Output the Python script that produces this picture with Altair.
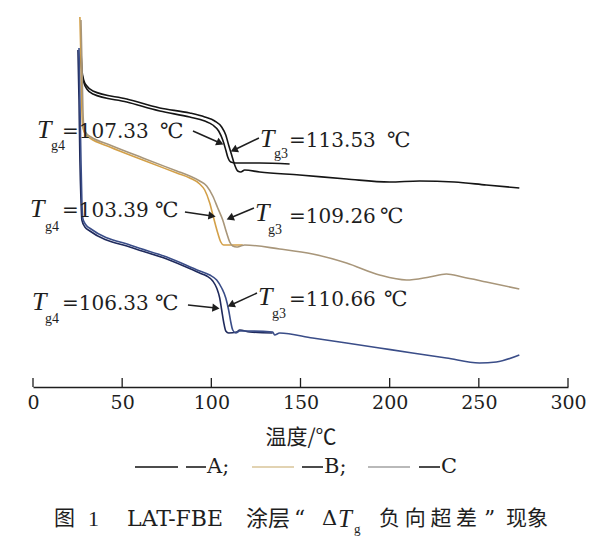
import math
import altair as alt
import pandas as pd

# ---------------- data ----------------
# temperature (°C) and heat flow (arbitrary units, curves offset vertically)
A1_t = [26.9, 27.4, 28.6, 30.2, 33.6, 52.6, 71.1, 87.9, 96.3, 100.8, 104.1, 106.4, 108.1, 109.2, 110.9, 113.7, 127.1, 143.9]
A1_y = [337, 315, 304, 298, 293, 285, 276, 270, 266, 262, 256, 247, 237, 230, 225, 224, 224, 223]

A2_t = [26.9, 27.4, 28.6, 30.2, 33.6, 52.6, 71.1, 87.9, 96.3, 101.9, 105.8, 108.1, 109.7, 111.4, 113.1, 114.8,
        116.5, 118.7, 127.1, 149.5, 175.8, 199.9, 216.7, 236.3, 254.2, 272.7]
A2_y = [339, 317, 306, 301, 296, 288, 279, 274, 270, 266, 260, 252, 242, 232, 222, 216,
        215, 217, 215, 212, 208, 205, 206, 205, 202, 199]

B1_t = [26.3, 26.9, 27.4, 28.0, 29.7, 31.9, 43.1, 61.6, 80.6, 87.9, 93.5, 96.3, 99.1, 101.3, 103.6, 105.3,
        106.9, 114.2, 117.6]
B1_y = [370, 327, 277, 259, 252, 249, 240, 227, 214, 209, 203, 197, 184, 169, 154, 145,
        142, 142, 142]

B2_t = [26.9, 27.4, 28.0, 28.6, 30.2, 32.5, 43.1, 61.6, 80.6, 87.9, 93.5, 97.4, 100.8, 103.6, 106.4, 108.6,
        110.3, 112.0, 114.2, 116.5, 118.7, 138.3, 156.8, 175.8, 194.3, 209.4, 222.3, 231.8, 240.8, 254.2, 272.7]
B2_y = [367, 327, 277, 259, 253, 250, 242, 229, 216, 211, 206, 201, 191, 179, 167, 154,
        145, 141, 140, 141, 142, 138, 133, 124, 112, 107, 110, 113, 110, 105, 98]

C1_t = [25.2, 25.8, 26.3, 26.9, 27.4, 29.1, 31.9, 56.0, 75.0, 93.5, 97.4, 100.8, 103.0, 104.7, 105.8, 106.9,
        108.1, 109.7, 114.2, 115.9, 121.5, 134.4]
C1_y = [337, 287, 227, 187, 167, 160, 156, 139, 128, 114, 111, 106, 99, 89, 77, 65,
        56, 54, 55, 57, 55, 54]

C2_t = [25.8, 26.3, 26.9, 27.4, 28.0, 29.7, 32.5, 56.0, 75.0, 93.5, 99.1, 103.0, 105.8, 108.1, 109.7, 110.9,
        112.0, 113.7, 115.9, 119.8, 134.4, 135.5, 138.3, 156.8, 175.8, 194.3, 212.8, 231.8, 250.3, 259.8, 272.7]
C2_y = [339, 287, 227, 187, 168, 162, 158, 141, 130, 116, 112, 107, 99, 89, 77, 65,
        57, 54, 56, 56, 55, 52, 54, 49, 44, 39, 34, 29, 24, 25, 32]

x_ticks = [0, 50, 100, 150, 200, 250, 300]

series_names = ["A1", "A2", "B1", "B2", "C1", "C2"]
series_colors = ["#151515", "#151515", "#d3a048", "#a8967a", "#1f2a5c", "#3a4d88"]

# annotation texts
tg_values = ["=107.33", "=113.53", "=103.39", "=109.26", "=106.33", "=110.66"]
tg_subs = ["g4", "g3", "g4", "g3", "g4", "g3"]

# ---------------- build tables ----------------
rows = []
for name, ts, ys in [("A1", A1_t, A1_y), ("A2", A2_t, A2_y), ("B1", B1_t, B1_y),
                     ("B2", B2_t, B2_y), ("C1", C1_t, C1_y), ("C2", C2_t, C2_y)]:
    for i, (t, y) in enumerate(zip(ts, ys)):
        rows.append({"t": t, "y": y, "s": name, "i": i})
curves = pd.DataFrame(rows)

W, H = 535, 377
xs = alt.Scale(domain=[0, 300], nice=False, zero=False)
ys_ = alt.Scale(domain=[0, 377], nice=False, zero=False)

# label anchors in data units (temperature, heat-flow units)
T_pos = [(2.2, 249), (127.3, 240), (-1.7, 170), (124.5, 166), (-0.6, 77), (126.2, 82)]
sub_pos = [(10.1, 237), (135.1, 229), (6.7, 156), (131.8, 153), (6.7, 64), (134.0, 69)]
val_pos = [(16.3, 249), (143.6, 240), (16.3, 170), (143.6, 164), (16.3, 77), (143.6, 81)]
deg_pos = [(71.2, 249), (198.5, 240), (68.4, 170), (194.6, 164), (68.4, 77), (196.8, 81)]
arrows = [(89.7, 256, 104.9, 244), (126.7, 249, 112.7, 237),
          (85.2, 175, 100.4, 171), (123.9, 179, 110.5, 169),
          (86.9, 82, 102.6, 79), (125.6, 94, 111.0, 82)]

lab_T = pd.DataFrame({"t": [p[0] for p in T_pos], "y": [p[1] for p in T_pos], "txt": ["T"] * 6})
lab_sub = pd.DataFrame({"t": [p[0] for p in sub_pos], "y": [p[1] for p in sub_pos], "txt": tg_subs})
lab_val = pd.DataFrame({"t": [p[0] for p in val_pos], "y": [p[1] for p in val_pos], "txt": tg_values})
lab_deg = pd.DataFrame({"t": [p[0] for p in deg_pos], "y": [p[1] for p in deg_pos], "txt": ["℃"] * 6})

arr = pd.DataFrame(arrows, columns=["t0", "y0", "t1", "y1"])
arr["ang"] = [
    (math.degrees(math.atan2(-(r.y1 - r.y0), (r.t1 - r.t0) * W / 300.0)) + 360) % 360
    for r in arr.itertuples()
]

ticks_df = pd.DataFrame({"t": x_ticks, "y0": [0] * len(x_ticks), "y1": [9] * len(x_ticks)})

SERIF = "DejaVu Serif"
TIMES = "Liberation Serif"
CJK = "Noto Sans CJK SC"
INK = "#1e1e1e"

# ---------------- layers ----------------
lines = alt.Chart(curves).mark_line(strokeWidth=1.6, interpolate="monotone").encode(
    x=alt.X("t:Q", scale=xs, axis=alt.Axis(
        values=x_ticks, ticks=False, grid=False, domainColor=INK, domainWidth=1.3,
        labelFont=SERIF, labelFontSize=19, labelColor=INK, labelPadding=6, labelFlush=False,
        title="温度/℃", titleFont=CJK, titleFontSize=21, titleFontWeight="normal",
        titleColor=INK, titleY=50, titleBaseline="middle")),
    y=alt.Y("y:Q", scale=ys_, axis=None),
    color=alt.Color("s:N", scale=alt.Scale(domain=series_names, range=series_colors), legend=None),
    detail="s:N",
    order=alt.Order("i:Q"),
)

tick_marks = alt.Chart(ticks_df).mark_rule(color=INK, strokeWidth=1.3).encode(
    x=alt.X("t:Q", scale=xs), y=alt.Y("y0:Q", scale=ys_), y2="y1:Q")

def anno(df, font, size, style="normal"):
    return alt.Chart(df).mark_text(font=font, fontSize=size, fontStyle=style, align="left",
                                   baseline="alphabetic", color=INK).encode(
        x=alt.X("t:Q", scale=xs), y=alt.Y("y:Q", scale=ys_), text="txt:N")

t_txt = anno(lab_T, TIMES, 26, "italic")
sub_txt = anno(lab_sub, TIMES, 14)
val_txt = anno(lab_val, SERIF, 20)
deg_txt = anno(lab_deg, SERIF, 21)

arrow_lines = alt.Chart(arr).mark_rule(color=INK, strokeWidth=1.5).encode(
    x=alt.X("t0:Q", scale=xs), y=alt.Y("y0:Q", scale=ys_), x2="t1:Q", y2="y1:Q")
arrow_heads = alt.Chart(arr).mark_point(shape="triangle-right", filled=True, size=70,
                                        color=INK, opacity=1).encode(
    x=alt.X("t1:Q", scale=xs), y=alt.Y("y1:Q", scale=ys_),
    angle=alt.Angle("ang:Q", scale=None))

# ---------------- legend & caption (pixel placement below plot) ----------------
one = pd.DataFrame({"k": [0]})
def seg(x0, x1, yy, col):
    return alt.Chart(one).mark_rule(color=col, strokeWidth=1.6).encode(
        x=alt.value(x0), x2=alt.value(x1), y=alt.value(yy))

def txt(s, xx, yy, font, size, style="normal"):
    return alt.Chart(one).mark_text(font=font, fontSize=size, fontStyle=style, align="left",
                                    baseline="middle", color=INK).encode(
        x=alt.value(xx), y=alt.value(yy), text=alt.value(s))

LY = 457
legend_layers = [
    seg(102, 145, LY, "#111111"), seg(153, 173, LY, INK), txt("A;", 174, LY, SERIF, 21),
    seg(219, 261, LY, "#d8c498"), seg(269, 290, LY, INK), txt("B;", 291, LY, SERIF, 21),
    seg(335, 377, LY, "#a2a2a2"), seg(386, 407, LY, INK), txt("C", 408, LY, SERIF, 21),
]

CY = 509
caption_layers = [
    txt("图", 21, CY, CJK, 21),
    txt("1", 55, CY, TIMES, 22),
    txt("LAT-FBE", 94, CY, SERIF, 22),
    txt("涂层", 213, CY, CJK, 22),
    txt("“", 261, CY, SERIF, 22),
    txt("Δ", 289, CY, SERIF, 21),
    txt("T", 305, CY, TIMES, 25, "italic"),
    txt("g", 321, CY + 10, TIMES, 13),
    txt("负 向 超 差", 346, CY, CJK, 21),
    txt("”", 451, CY, SERIF, 22),
    txt("现象", 473, CY, CJK, 21),
]

chart = alt.layer(
    lines, tick_marks, t_txt, sub_txt, val_txt, deg_txt, arrow_lines, arrow_heads,
    *legend_layers, *caption_layers
).properties(
    width=W, height=H,
    autosize=alt.AutoSizeParams(type="none"),
    padding={"left": 25, "top": 2, "right": 24, "bottom": 150},
    background="white",
).configure_view(stroke=None)

chart.save("out.html", embed_options={"renderer": "svg", "actions": False})
